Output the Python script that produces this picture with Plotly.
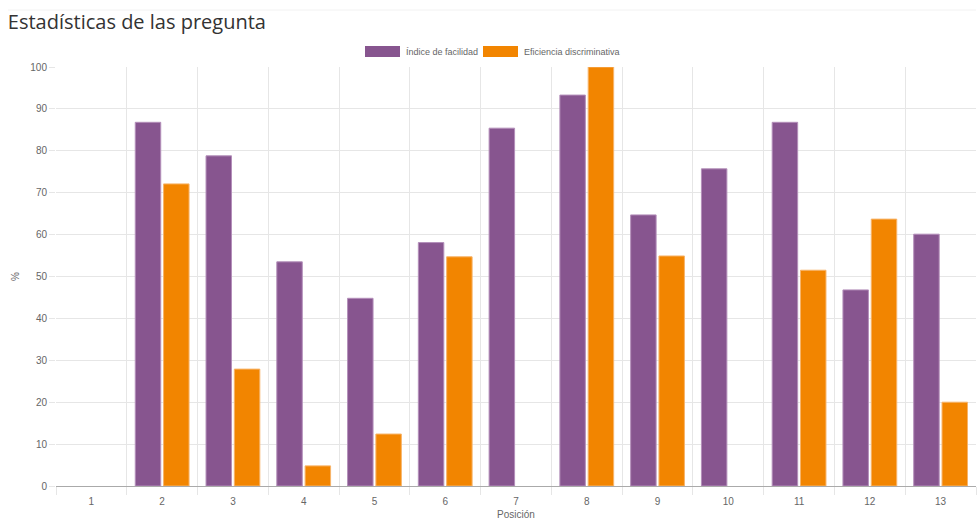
import plotly.graph_objects as go

posiciones = list(range(1, 14))
indice_facilidad = [0, 86.8, 78.8, 53.5, 44.8, 58.1, 85.4, 93.3, 64.7, 75.7, 86.8, 46.8, 60.1]
eficiencia_discriminativa = [0, 72.1, 27.9, 4.8, 12.4, 54.7, 0, 100, 54.9, 0, 51.5, 63.7, 20.0]
nombres = ["Índice de facilidad", "Eficiencia discriminativa"]
colores = ["#87558f", "#f28500"]
bordes = ["#b48fba", "#f7b46a"]

FONT = "Liberation Sans, Arial, sans-serif"
GRID = "#e6e6e6"

fig = go.Figure()
for nombre, vals, col, borde in zip(nombres, [indice_facilidad, eficiencia_discriminativa], colores, bordes):
    fig.add_trace(go.Bar(
        x=posiciones, y=vals, name=nombre,
        marker=dict(color=col, line=dict(color=borde, width=[0 if v == 0 else 1 for v in vals])),
        showlegend=False,
    ))

# custom legend with wide swatches, like Chart.js
legend_x = [(365, 400, 404), (483, 518, 522)]
shapes = []
annotations = []
for (x0, x1, tx), nombre, col in zip(legend_x, nombres, colores):
    shapes.append(dict(type="rect", xref="paper", yref="paper",
                       x0=(x0 - 56) / 920, x1=(x1 - 56) / 920,
                       y0=(486 - 57) / 419, y1=(486 - 46) / 419,
                       fillcolor=col, line=dict(width=0)))
    annotations.append(dict(text=nombre, xref="paper", yref="paper",
                            x=(tx - 56) / 920, y=(486 - 51.5) / 419,
                            xanchor="left", yanchor="middle", showarrow=False,
                            font=dict(family=FONT, size=9, color="#666")))

# faint header separator
shapes.append(dict(type="line", xref="paper", yref="paper",
                   x0=-48 / 920, x1=1.0, y0=(486 - 10) / 419, y1=(486 - 10) / 419,
                   line=dict(color="#f2f2f2", width=1)))

fig.update_layout(
    width=979, height=520,
    margin=dict(l=56, r=3, t=67, b=34),
    paper_bgcolor="white", plot_bgcolor="white",
    barmode="group", bargap=0.2, bargroupgap=0.1,
    title=dict(text="Estadísticas de las pregunta", x=0.008, xanchor="left",
               y=0.957, yanchor="middle",
               font=dict(family="Open Sans, sans-serif", size=20, color="#333")),
    font=dict(family=FONT, size=10, color="#666"),
    shapes=shapes, annotations=annotations,
    xaxis=dict(
        range=[0.5, 13.5], tickmode="array", tickvals=posiciones,
        ticktext=[str(p) for p in posiciones],
        showgrid=False, zeroline=False, ticks="", ticklabelstandoff=6,
        showline=True, linecolor="#aaa", linewidth=1, automargin=False,
        minor=dict(tickmode="linear", tick0=0.5, dtick=1, showgrid=True,
                   gridcolor=GRID, gridwidth=1, ticks="outside", ticklen=8,
                   tickcolor=GRID),
        title=dict(text="Posición", standoff=12, font=dict(size=10, color="#666")),
        tickfont=dict(size=10, color="#666"),
    ),
    yaxis=dict(
        range=[0, 100], dtick=10, showgrid=True, gridcolor=GRID, gridwidth=1,
        zeroline=False, ticks="outside", ticklen=6, tickcolor=GRID, automargin=False,
        title=dict(text="%", standoff=8, font=dict(size=10, color="#666")),
        tickfont=dict(size=10, color="#666"),
    ),
)

fig.write_html("out.html", config={"displayModeBar": False},
               post_script="document.body.style.margin='0';")
